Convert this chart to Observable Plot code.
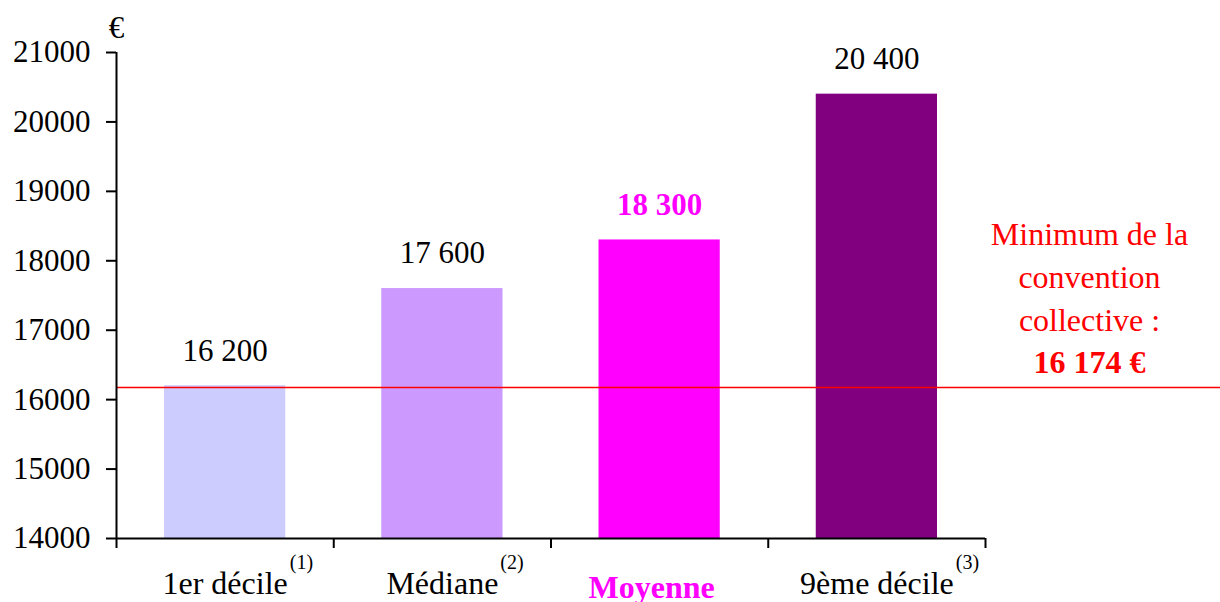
<!DOCTYPE html>
<html><head><meta charset="utf-8">
<script src="https://cdn.jsdelivr.net/npm/d3@7"></script>
<script src="https://cdn.jsdelivr.net/npm/@observablehq/plot@0.6"></script>
<style>html,body{margin:0;padding:0;background:#fff;overflow:hidden;} svg{display:block;}</style>
</head><body>
<script>
const categories = ["1er décile", "Médiane", "Moyenne", "9ème décile"];
const footnotes = ["(1)", "(2)", "", "(3)"];
const values = [16200, 17600, 18300, 20400];
const valueLabels = ["16 200", "17 600", "18 300", "20 400"];
const barColors = ["#CCCCFF", "#CC99FF", "#FF00FF", "#800080"];
const highlighted = [false, false, true, false];
const yTickValues = [14000, 15000, 16000, 17000, 18000, 19000, 20000, 21000];
const yDomain = [14000, 21000];
const minimumConvention = 16174;
const minimumLabel = "16 174 €";
const minimumText = "Minimum de la\nconvention\ncollective :";
const unitLabel = "€";

const rows = categories.map((c, i) => ({
  category: c, i, i1: i + 1, mid: i + 0.5,
  value: values[i], label: valueLabels[i], color: barColors[i],
  note: footnotes[i], hl: highlighted[i]
}));

const chart = Plot.plot({
  width: 1220, height: 602,
  marginTop: 52, marginLeft: 116, marginRight: 235, marginBottom: 64,
  style: {fontFamily: "'Liberation Serif', 'Times New Roman', serif", fontSize: "31px", color: "#000", background: "#fff", overflow: "visible"},
  x: {type: "linear", domain: [0, categories.length], axis: null},
  y: {domain: yDomain, axis: null},
  color: {type: "identity"},
  marks: [
    Plot.rectY(rows, {x1: "i", x2: "i1", y1: yDomain[0], y2: "value", fill: "color", insetLeft: 48, insetRight: 48}),
    Plot.ruleY([minimumConvention], {stroke: "#FF0000", strokeWidth: 1.6, insetRight: -235}),
    Plot.axisY({ticks: yTickValues, tickSize: 10, tickPadding: 16, fontSize: 31, strokeWidth: 2, label: null, tickFormat: d3.format("d")}),
    Plot.axisX({ticks: d3.range(categories.length + 1), tickSize: 10, tickFormat: () => "", strokeWidth: 2, label: null}),
    Plot.ruleX([0], {strokeWidth: 2}),
    Plot.ruleY([yDomain[0]], {strokeWidth: 2}),
    Plot.text(rows.filter(d => !d.hl), {x: "mid", y: "value", text: "label", dy: -35, fontSize: 31, fill: "#000"}),
    Plot.text(rows.filter(d => d.hl), {x: "mid", y: "value", text: "label", dy: -35, fontSize: 31, fontWeight: "bold", fill: "#FF00FF"}),
    Plot.text(rows.filter(d => !d.hl), {x: "mid", frameAnchor: "bottom", text: "category", dy: 55, fontSize: 32, fill: "#000"}),
    Plot.text(rows.filter(d => d.hl), {x: "mid", frameAnchor: "bottom", text: "category", dy: 59, dx: -8, fontSize: 32, fontWeight: "bold", fill: "#FF00FF"}),
    Plot.text(rows.filter(d => d.note), {x: "mid", frameAnchor: "bottom", text: "note", textAnchor: "start", dy: 30, fontSize: 20, fill: "#000"}),
    Plot.text([minimumConvention], {y: d => d, text: () => minimumText, frameAnchor: "right", textAnchor: "middle", dx: 104, dy: -57, lineAnchor: "bottom", lineHeight: 1.33, fontSize: 32, fill: "#FF0000"}),
    Plot.text([minimumConvention], {y: d => d, text: () => minimumLabel, frameAnchor: "right", textAnchor: "middle", dx: 104, dy: -25, fontSize: 32, fontWeight: "bold", fill: "#FF0000"}),
    Plot.text([unitLabel], {frameAnchor: "top-left", textAnchor: "middle", lineAnchor: "middle", dy: -24, fontSize: 31, fill: "#000"})
  ]
});
document.body.append(chart);

// place footnote markers as superscripts just after their category label
const allTexts = Array.from(chart.querySelectorAll("text"));
rows.filter(d => d.note).forEach(d => {
  const main = allTexts.find(t => t.textContent === d.category);
  const sup = allTexts.find(t => t.textContent === d.note);
  if (!main || !sup) return;
  const w = main.getComputedTextLength();
  const tr = sup.getAttribute("transform") || "";
  sup.setAttribute("transform", `${tr} translate(${w / 2 + 2},0)`);
});
</script>
</body></html>
